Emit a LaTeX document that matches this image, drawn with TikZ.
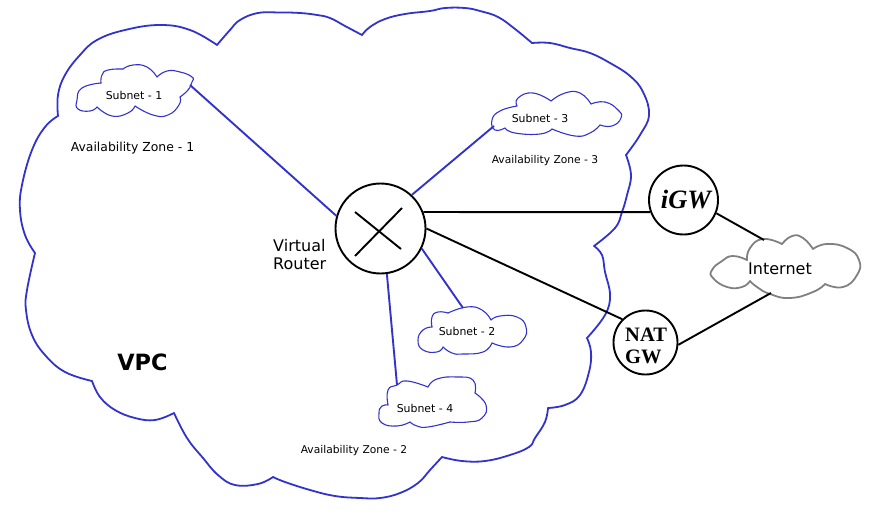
\documentclass[tikz,border=0pt]{standalone}
\usepackage{fontspec}
\setmainfont{DejaVu Sans}
\newfontfamily\gwfont{Liberation Serif}
\definecolor{vpcblue}{RGB}{51,51,204}
\definecolor{inetgray}{RGB}{128,128,128}
\def\vpcedge{\draw[vpcline] plot[smooth,tension=0.7] coordinates}
\def\subnetedge{\draw[subnetline] plot[smooth,tension=0.85] coordinates}
\def\inetedge{\draw[inetline] plot[smooth,tension=0.85] coordinates}
\tikzset{
  vpcline/.style={draw=vpcblue,line width=1.8pt,line cap=round},
  subnetline/.style={draw=vpcblue,line width=1.1pt,line cap=round},
  inetline/.style={draw=inetgray,line width=1.8pt,line cap=round},
  bluelink/.style={draw=vpcblue,line width=1.9pt},
  blacklink/.style={draw=black,line width=1.9pt},
  gwcircle/.style={circle,draw=black,line width=1.9pt,fill=white,inner sep=0pt},
  lbl/.style={inner sep=0pt,font=\fontsize{#1}{#1}\selectfont}
}
\begin{document}
\begin{tikzpicture}[x=1pt,y=-1pt]
\useasboundingbox (0,0) rectangle (875,516);
% vpc outline
\vpcedge {(217,45) (230,30) (240,20) (258,13) (280,12.5) (300,13) (317,15) (330,18) (345,26) (362,35)};
\vpcedge {(362,35) (370,27) (385,19) (405,14) (430,11) (445,8) (465,8) (480,11) (498,17) (515,29) (532,43)};
\vpcedge {(532,43) (550,43) (570,48) (590,53) (610,63) (630,76) (643,92) (649,115) (640,135) (626,155)};
\vpcedge {(626,155) (631,175) (627,195) (622,212) (615,228) (594,246)};
\vpcedge {(594,246) (602,255) (605,272) (610,295) (605,315) (587,338)};
\vpcedge {(587,338) (591,352) (589,372) (580,395) (565,405) (548,408)};
\vpcedge {(548,408) (545,422) (535,438) (529,447) (510,455) (485,461) (462,461) (442,457)};
\vpcedge {(442,457) (430,470) (418,483) (400,493) (380,498) (360,498) (335,496) (310,490) (285,482) (273,477)};
\vpcedge {(273,477) (258,484) (235,485) (218,475) (203,458) (187,438) (174,413)};
\vpcedge {(174,413) (155,420) (135,418) (115,410) (100,397) (92,381)};
\vpcedge {(92,381) (65,372) (45,355) (32,335) (26,310) (27,290) (35,253)};
\vpcedge {(35,253) (25,235) (20,210) (22,185) (32,150) (45,127) (58,116)};
\vpcedge {(58,116) (58,95) (65,75) (80,55) (97,40) (125,30) (160,25) (190,30) (217,45)};
% subnet clouds
\subnetedge {(101,83) (102,75) (108,70) (123,69)};
\subnetedge {(123,69) (133,65) (147,67) (157,77)};
\subnetedge {(157,77) (167,71) (180,72) (192,77) (192,82) (188,90) (180,97)};
\subnetedge {(180,97) (179,105) (168,115) (153,115) (135,106)};
\subnetedge {(135,106) (128,113) (112,116) (97,107)};
\subnetedge {(97,107) (90,111) (78,109) (77,100) (82,88) (101,83)};
\subnetedge {(517,106) (518,98) (533,93) (551,101)};
\subnetedge {(551,101) (565,93) (580,93) (591,104)};
\subnetedge {(591,104) (605,102) (618,110) (621,118) (612,126) (600,125)};
\subnetedge {(600,125) (590,133) (575,136) (552,129)};
\subnetedge {(552,129) (540,134) (515,133) (505,128)};
\subnetedge {(505,128) (495,130) (492,120) (500,111) (517,106)};
\subnetedge {(432,327) (432,317) (438,312) (448,313)};
\subnetedge {(448,313) (467,307) (482,310) (491,320)};
\subnetedge {(491,320) (500,316) (517,317) (526,327) (523,340) (510,347) (492,343)};
\subnetedge {(492,343) (483,352) (463,354) (452,353) (443,347)};
\subnetedge {(443,347) (437,352) (423,350) (418,340) (423,330) (432,327)};
\subnetedge {(388,405) (388,390) (397,385) (407,381) (428,387)};
\subnetedge {(428,387) (437,379) (457,377) (473,380) (475,393)};
\subnetedge {(475,393) (486,405) (482,418) (468,422) (450,422)};
\subnetedge {(450,422) (428,427) (417,426) (410,422)};
\subnetedge {(410,422) (397,426) (382,423) (379,413) (382,406) (388,405)};
% internet cloud
\inetedge {(747,260) (750,248) (763,239) (782,244)};
\inetedge {(782,244) (792,236) (803,238) (813,249)};
\inetedge {(813,249) (827,244) (847,248) (859,260) (857,275) (843,287) (825,284)};
\inetedge {(825,284) (813,292) (790,298) (770,294) (757,287) (750,281)};
\inetedge {(750,281) (742,287) (727,287) (713,278) (712,270) (722,261) (733,256) (747,260)};
% main nodes
\node[gwcircle,minimum size=90pt] (router) at (380.5,228.5) {};
\node[gwcircle,minimum size=69pt] (igw) at (683.5,200) {};
\node[gwcircle,minimum size=64pt] (natgw) at (645.5,342.5) {};
\coordinate (subnetA) at (190,85);
\coordinate (subnetB) at (463,308);
\coordinate (subnetC) at (494,126);
\coordinate (subnetD) at (397,385);
\coordinate (inetA) at (764,240);
\coordinate (inetB) at (771,293);
% router cross
\coordinate (crossA) at (355,212);
\coordinate (crossB) at (401,249);
\coordinate (crossC) at (355,256);
\coordinate (crossD) at (402,208);
\draw[blacklink] (crossA) -- (crossB);
\draw[blacklink] (crossC) -- (crossD);
% links
\draw[bluelink] (subnetA) -- (router.164.6);
\draw[bluelink] (subnetB) -- (router.334);
\draw[bluelink] (subnetC) -- (router.47.7);
\draw[bluelink] (subnetD) -- (router.278.5);
\draw[blacklink] (router.21.5) -- (igw.200);
\draw[blacklink] (router.0) -- (natgw.135);
\draw[blacklink] (igw.338) -- (inetA);
\draw[blacklink] (natgw.356) -- (inetB);
% labels
\node[lbl=10.9] (subA) at (134,95) {Subnet - 1};
\node[lbl=10.9] (subB) at (467,331) {Subnet - 2};
\node[lbl=10.9] (subC) at (540,118) {Subnet - 3};
\node[lbl=10.9] (subD) at (425,408) {Subnet - 4};
\node[lbl=12.4] (azA) at (132.5,148) {Availability Zone - 1};
\node[lbl=10.7] (azB) at (354,451) {Availability Zone - 2};
\node[lbl=10.7] (azC) at (545,161) {Availability Zone - 3};
\node[lbl=16,anchor=west] (vrA) at (273,246) {Virtual};
\node[lbl=16,anchor=west] (vrB) at (273,264) {Router};
\node[lbl=16] (inet) at (780,269) {Internet};
\node[inner sep=0pt,font=\fontsize{22.4}{22.4}\selectfont\bfseries] (vpc) at (142.5,362) {VPC};
\node[inner sep=0pt,font=\gwfont\fontsize{26.5}{26.5}\selectfont\bfseries\itshape] (igwtext) at (686,200) {iGW};
\node[inner sep=0pt,anchor=west,font=\gwfont\fontsize{20.5}{20.5}\selectfont\bfseries] (nattext) at (625,335) {NAT};
\node[inner sep=0pt,anchor=west,font=\gwfont\fontsize{20.5}{20.5}\selectfont\bfseries] (gwtext) at (625,357) {GW};
\end{tikzpicture}
\end{document}
